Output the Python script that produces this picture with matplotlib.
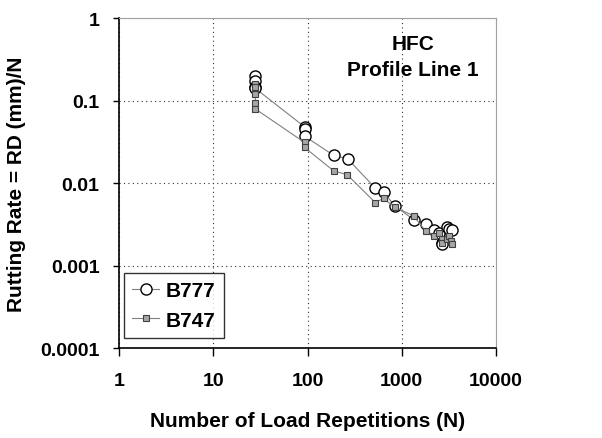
import matplotlib
matplotlib.use("Agg")
import matplotlib.pyplot as plt
from matplotlib.ticker import FixedLocator, NullLocator

plt.rcParams['font.family'] = ['Liberation Sans', 'DejaVu Sans']
plt.rcParams['font.weight'] = 'bold'

# B777 - circles
n_777 = [28, 28, 28, 28, 93, 93, 93, 190, 266, 523, 641, 839, 1336, 1792,
         2178, 2514, 2650, 2700, 3020, 3200, 3400]
r_777 = [0.197, 0.17, 0.145, 0.14, 0.048, 0.045, 0.037, 0.0216, 0.0197,
         0.0087, 0.0078, 0.0053, 0.0036, 0.0032, 0.0027, 0.0025, 0.0019,
         0.0018, 0.0029, 0.0028, 0.0027]

# B747 - squares
n_747 = [28, 28, 28, 28, 28, 93, 93, 190, 264, 523, 641, 839, 1336, 1792,
         2178, 2514, 2650, 2700, 3020, 3200, 3300, 3400]
r_747 = [0.16, 0.145, 0.12, 0.094, 0.079, 0.031, 0.027, 0.014, 0.0126,
         0.0058, 0.0065, 0.0051, 0.004, 0.0026, 0.0023, 0.0025, 0.0021,
         0.0019, 0.0021, 0.0023, 0.002, 0.0018]

x_ticks = [1, 10, 100, 1000, 10000]
x_labels = ['1', '10', '100', '1000', '10000']
y_ticks = [0.0001, 0.001, 0.01, 0.1, 1]
y_labels = ['0.0001', '0.001', '0.01', '0.1', '1']

fig = plt.figure(figsize=(6.02, 4.39), dpi=100)
ax = fig.add_axes([0.1977, 0.205, 0.6262, 0.7517])

ax.plot(n_777, r_777, '-', color='#808080', lw=0.8, marker='o', ms=8,
        mfc='white', mec='black', mew=1.0, label='B777', zorder=3)
ax.plot(n_747, r_747, '-', color='#808080', lw=0.8, marker='s', ms=4.5,
        mfc='#a6a6a6', mec='#404040', mew=0.8, label='B747', zorder=4)

ax.set_xscale('log')
ax.set_yscale('log')
ax.set_xlim(1, 10000)
ax.set_ylim(0.0001, 1)
ax.xaxis.set_major_locator(FixedLocator(x_ticks))
ax.yaxis.set_major_locator(FixedLocator(y_ticks))
ax.xaxis.set_minor_locator(NullLocator())
ax.yaxis.set_minor_locator(NullLocator())
ax.set_xticklabels(x_labels, fontsize=14, fontweight='bold')
ax.set_yticklabels(y_labels, fontsize=14, fontweight='bold')
ax.tick_params(axis='y', direction='out', length=4, width=1, pad=10)
ax.tick_params(axis='x', direction='out', length=6, width=1, pad=11)

ax.grid(True, which='major', linestyle=(0, (1, 3)), color='#333333', lw=0.8)

for s in ['top', 'right']:
    ax.spines[s].set_color('#a0a0a0')
for s in ['left', 'bottom']:
    ax.spines[s].set_color('black')
    ax.spines[s].set_linewidth(1.2)

ax.set_xlabel('Number of Load Repetitions (N)', fontsize=15, fontweight='bold', labelpad=16)
ax.set_ylabel('Rutting Rate = RD (mm)/N', fontsize=15, fontweight='bold', labelpad=10)

ax.text(0.78, 0.883, 'HFC\nProfile Line 1', transform=ax.transAxes, ha='center',
        va='center', fontsize=15, fontweight='bold', linespacing=1.45)

leg = ax.legend(loc='lower left', bbox_to_anchor=(0.013, 0.03), fontsize=15,
                frameon=True, fancybox=False, edgecolor='black', handlelength=1.3,
                handletextpad=0.3, borderpad=0.4, labelspacing=0.5,
                borderaxespad=0)
leg.get_frame().set_linewidth(1.0)
for t in leg.get_texts():
    t.set_fontweight('bold')

fig.savefig('out.png', dpi=100)
